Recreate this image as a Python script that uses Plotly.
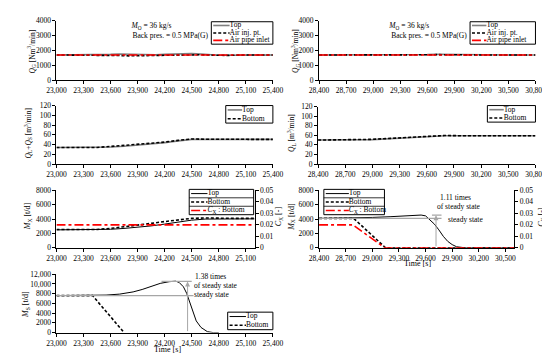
import plotly.graph_objects as go

# ---------------- data ----------------
# Panel 1: Q_G, case 1
t1 = [23000, 23300, 23500, 23600, 23700, 23800, 23900, 24000, 24100, 24200, 24300, 24400, 24500, 24600, 24700, 24800, 24900, 25000, 25200, 25400]
qg1_top = [1700, 1700, 1710, 1740, 1760, 1740, 1700, 1690, 1710, 1740, 1760, 1780, 1800, 1760, 1700, 1680, 1680, 1690, 1700, 1700]
qg1_inj = [1700, 1700, 1690, 1680, 1660, 1640, 1650, 1670, 1690, 1710, 1720, 1720, 1730, 1710, 1690, 1660, 1670, 1690, 1700, 1700]
qg1_pipe = [1700] * len(t1)

# Panel 2: Q_G, case 2
t2 = [28400, 28700, 29000, 29100, 29200, 29300, 29400, 29500, 29600, 29700, 29800, 29900, 30000, 30200, 30500, 30800]
qg2_top = [1700, 1700, 1700, 1710, 1690, 1680, 1700, 1710, 1730, 1750, 1740, 1710, 1700, 1700, 1700, 1700]
qg2_inj = [1700, 1700, 1690, 1680, 1660, 1670, 1690, 1700, 1710, 1720, 1710, 1700, 1690, 1700, 1700, 1700]
qg2_pipe = [1700] * len(t2)

# Panel 3: Q_L+Q_S
t3 = [23000, 23300, 23450, 23600, 23750, 23900, 24050, 24200, 24350, 24450, 24500, 24600, 24800, 25100, 25400]
q3_top = [34, 34, 34, 35, 36.5, 38.5, 41, 44, 47.5, 50, 50.5, 50.5, 50.5, 50.5, 50.5]
q3_bot = [34, 34, 34, 36, 38, 40, 42.5, 45, 48.5, 51, 51.5, 51, 50.5, 50.5, 50.5]

# Panel 4: Q_L
t4 = [28400, 28700, 28900, 29000, 29150, 29300, 29450, 29600, 29700, 29800, 30000, 30400, 30800]
q4_top = [50, 50, 50, 51, 52.5, 54, 56, 57.5, 58.5, 59, 59, 59, 59]
q4_bot = [50, 50, 50, 51.5, 53, 54.5, 56.5, 58, 59, 59.5, 59, 59, 59]

# Panel 5: M_X and C_X, case 1
t5 = [23000, 23300, 23450, 23600, 23750, 23900, 24050, 24200, 24350, 24500, 24650, 24800, 25000, 25200]
mx5_top = [2500, 2500, 2500, 2580, 2700, 2850, 3050, 3300, 3580, 3850, 4000, 4030, 4030, 4030]
mx5_bot = [2550, 2550, 2550, 2700, 2900, 3150, 3400, 3650, 3900, 4100, 4150, 4100, 4100, 4100]
cx5_bot = [0.02] * len(t5)

# Panel 6: M_X and C_X, case 2
t6 = [28400, 28600, 28800, 29000, 29200, 29400, 29500, 29550, 29600, 29650, 29700, 29750, 29800, 29850, 29900, 29950, 30000, 30050, 30600]
mx6_top = [4100, 4110, 4150, 4230, 4330, 4450, 4540, 4560, 4450, 3850, 3300, 2500, 1600, 900, 450, 150, 40, 0, 0]
t6_bot = [28400, 28790, 29150, 30600]
mx6_bot = [4100, 4100, 0, 0]
t6_cx = [28400, 28780, 29140, 30600]
cx6_bot = [0.02, 0.02, 0, 0]

# Panel 7: M_S
t7 = [23000, 23400, 23550, 23700, 23850, 23950, 24050, 24150, 24250, 24320, 24360, 24408, 24444, 24480, 24515, 24550, 24603, 24673, 24740, 24800]
ms7_top = [7600, 7600, 7700, 7900, 8350, 8850, 9550, 10100, 10450, 10560, 10300, 9400, 8060, 6060, 4060, 2400, 1060, 200, 0, 0]
t7_bot = [23000, 23400, 23750]
ms7_bot = [7600, 7600, 0]

# annotation values
steady6, peak6, arrow6_t = 4100, 4550, 29718
steady7, peak7, arrow7_t = 7600, 10500, 24454

# tick values / labels
xt_a = list(range(23000, 25401, 300))
xt_b = list(range(28400, 30801, 300))
xt_c = list(range(23000, 25101, 300))
xt_d = list(range(28400, 30501, 300))
y7_vals = [0, 2000, 4000, 6000, 8000, 10000, 12000]
y7_text = ["0", "2000", "4000", "6000", "8000", "10,000", "12,000"]
cx_vals = [0, 0.01, 0.02, 0.03, 0.04, 0.05]
cx_text = ["0", "0.01", "0.02", "0.03", "0.04", "0.05"]

# ---------------- figure ----------------
W, H = 550, 353
FONT = "Liberation Serif"
FS = 7.5
GREY = "#7f7f7f"
DASH = "3px,2px"


def px(x):
    return x / W


def py(y):
    return 1 - y / H


fig = go.Figure()


def line(x, y, xa, ya, color="black", dash="solid", width=1.2):
    fig.add_trace(go.Scatter(x=x, y=y, xaxis=xa, yaxis=ya, mode="lines",
                             line=dict(color=color, dash=dash, width=width),
                             showlegend=False, hoverinfo="skip"))


# panel 1
line(t1, qg1_top, "x", "y", GREY, "solid", 1.6)
line(t1, qg1_inj, "x", "y", "black", DASH, 1.6)
line(t1, qg1_pipe, "x", "y", "red", "dashdot", 1.6)
# panel 2
line(t2, qg2_top, "x2", "y2", GREY, "solid", 1.6)
line(t2, qg2_inj, "x2", "y2", "black", DASH, 1.6)
line(t2, qg2_pipe, "x2", "y2", "red", "dashdot", 1.6)
# panel 3
line(t3, q3_top, "x3", "y3", GREY, "solid", 1.6)
line(t3, q3_bot, "x3", "y3", "black", DASH, 1.6)
# panel 4
line(t4, q4_top, "x4", "y4", GREY, "solid", 1.6)
line(t4, q4_bot, "x4", "y4", "black", DASH, 1.6)
# panel 5
line(t5, mx5_top, "x5", "y5", "black", "solid", 1.0)
line(t5, mx5_bot, "x5", "y5", "black", DASH, 1.6)
line(t5, cx5_bot, "x5", "y8", "red", "dashdot", 1.6)
# panel 6
line(t6, mx6_top, "x6", "y6", "black", "solid", 1.0)
line(t6_bot, mx6_bot, "x6", "y6", "black", DASH, 1.6)
line(t6_cx, cx6_bot, "x6", "y9", "red", "dashdot", 1.6)
# panel 7
line(t7, ms7_top, "x7", "y7", "black", "solid", 1.0)
line(t7_bot, ms7_bot, "x7", "y7", "black", DASH, 1.6)

axis_common = dict(showline=True, linecolor="black", linewidth=1, ticks="outside",
                   ticklen=3, tickcolor="black", showgrid=False, zeroline=False,
                   tickfont=dict(family=FONT, size=FS, color="black"))


def xax(x0, x1, anchor, rng, tv):
    return dict(axis_common, domain=[px(x0), px(x1)], anchor=anchor, range=rng,
                tickvals=tv, tickformat=",d")


def yax(y0, y1, anchor, rng, dtick, **kw):
    d = dict(axis_common, domain=[py(y1), py(y0)], anchor=anchor, range=rng, dtick=dtick)
    d.update(kw)
    return d


layout = dict(
    width=W, height=H, autosize=False,
    margin=dict(l=0, r=0, t=0, b=0),
    paper_bgcolor="white", plot_bgcolor="rgba(0,0,0,0)",
    font=dict(family=FONT, size=FS, color="black"),
    xaxis=xax(40, 265, "y", [23000, 25400], xt_a),
    yaxis=yax(9, 70, "x", [0, 4000], 1000),
    xaxis2=xax(313, 538, "y2", [28400, 30800], xt_b),
    yaxis2=yax(9, 70, "x2", [0, 4000], 1000),
    xaxis3=xax(40, 265, "y3", [23000, 25400], xt_a),
    yaxis3=yax(96, 156, "x3", [0, 120], 20),
    xaxis4=xax(312, 538, "y4", [28400, 30800], xt_b),
    yaxis4=yax(97, 156, "x4", [0, 120], 20),
    xaxis5=xax(40, 246, "y5", [23000, 25200], xt_c),
    yaxis5=yax(183, 242, "x5", [0, 8000], 2000),
    yaxis8=dict(axis_common, overlaying="y5", anchor="x5", side="right",
                range=[0, 0.05], tickvals=cx_vals, ticktext=cx_text),
    xaxis6=xax(313, 516, "y6", [28400, 30600], xt_d),
    yaxis6=yax(183, 242, "x6", [0, 8000], 2000),
    yaxis9=dict(axis_common, overlaying="y6", anchor="x6", side="right",
                range=[0, 0.05], tickvals=cx_vals, ticktext=cx_text),
    xaxis7=xax(40, 265, "y7", [23000, 25400], xt_a),
    yaxis7=yax(269, 329, "x7", [0, 12000], 2000, tickvals=y7_vals, ticktext=y7_text),
    # invisible full-page overlay used for left-anchored labels (pixel units)
    xaxis10=dict(domain=[0, 1], range=[0, W], visible=False, anchor="y10", fixedrange=True),
    yaxis10=dict(domain=[0, 1], range=[H, 0], visible=False, anchor="x10", fixedrange=True),
)
fig.update_layout(**layout)

shapes = []
annots = []
lab_x, lab_y, lab_t = [], [], []


def text(x, y, s, size=FS, angle=0):
    annots.append(dict(x=px(x), y=py(y), xref="paper", yref="paper", text=s,
                       showarrow=False, xanchor="center", yanchor="middle",
                       borderpad=0, textangle=angle,
                       font=dict(family=FONT, size=size, color="black")))


def ltext(x, y, s):
    lab_x.append(x)
    lab_y.append(y)
    lab_t.append(s)


def legend(x0, x1, y0, y1, items, sample_len, dividers=False):
    shapes.append(dict(type="rect", xref="paper", yref="paper", x0=px(x0), x1=px(x1),
                       y0=py(y1), y1=py(y0), line=dict(color="black", width=1),
                       fillcolor="rgba(0,0,0,0)", layer="above"))
    n = len(items)
    rh = (y1 - y0) / n
    for i, (lab, col, dash, w) in enumerate(items):
        yc = y0 + rh * (i + 0.5)
        shapes.append(dict(type="line", xref="paper", yref="paper",
                           x0=px(x0 + 2), x1=px(x0 + 2 + sample_len), y0=py(yc), y1=py(yc),
                           line=dict(color=col, dash=dash, width=w), layer="above"))
        ltext(x0 + 2 + sample_len, yc, lab)
        if dividers and i < n - 1:
            shapes.append(dict(type="line", xref="paper", yref="paper",
                               x0=px(x0), x1=px(x1), y0=py(y0 + rh * (i + 1)), y1=py(y0 + rh * (i + 1)),
                               line=dict(color="black", width=0.8), layer="above"))


lg_qg = [("Top", GREY, "solid", 1.6), ("Air inj. pt.", "black", DASH, 1.6), ("Air pipe inlet", "red", "dashdot", 1.6)]
lg_q = [("Top", GREY, "solid", 1.6), ("Bottom", "black", DASH, 1.6)]
lg_m = [("Top", "black", "solid", 1.0), ("Bottom", "black", DASH, 1.6),
        ("<i>C</i><sub>X</sub> : Bottom", "red", "dashdot", 1.6)]
lg_ms = [("Top", "black", "solid", 1.0), ("Bottom", "black", DASH, 1.6)]

legend(201, 265, 10, 33, lg_qg, 17)
legend(470, 538, 10, 33, lg_qg, 15)
legend(216, 265, 96, 114, lg_q, 15)
legend(488, 538, 96, 113, lg_q, 15)
legend(178, 245, 182, 208, lg_m, 17, dividers=True)
legend(318, 381, 182, 208, lg_m, 24, dividers=True)
legend(218, 265, 308, 326, lg_ms, 17)

# condition texts
ltext(118, 15, "<i>M</i><sub>O</sub> = 36 kg/s")
ltext(119, 24.5, "Back pres. = 0.5 MPa(G)")
ltext(386, 15, "<i>M</i><sub>O</sub> = 36 kg/s")
ltext(388, 24.5, "Back pres. = 0.5 MPa(G)")
ltext(183, 291, "steady state")

fig.add_trace(go.Scatter(x=lab_x, y=lab_y, text=lab_t, mode="text", xaxis="x10", yaxis="y10",
                         textposition="middle right", cliponaxis=False,
                         textfont=dict(family=FONT, size=FS, color="black"),
                         showlegend=False, hoverinfo="skip"))

# axis titles
text(15, 40, "<i>Q</i><sub>G</sub> [Nm<sup>3</sup>/min]", angle=-90)
text(289, 40, "<i>Q</i><sub>G</sub> [Nm<sup>3</sup>/min]", angle=-90)
text(11, 125, "<i>Q</i><sub>L</sub>+<i>Q</i><sub>S</sub> [m<sup>3</sup>/min]", angle=-90)
text(285, 124, "<i>Q</i><sub>L</sub> [m<sup>3</sup>/min]", angle=-90)
text(10, 210, "<i>M</i><sub>X</sub> [t/d]", 8, angle=-90)
text(271, 210, "<i>C</i><sub>X</sub> [-]", 8, angle=-90)
text(284, 210, "<i>M</i><sub>X</sub> [t/d]", 8, angle=-90)
text(544, 210, "<i>C</i><sub>X</sub> [-]", 8, angle=-90)
text(9, 300, "<i>M</i><sub>S</sub> [t/d]", 8, angle=-90)
text(415, 258.5, "Time [s]", 8)
text(155, 346.5, "Time [s]", 8)

# steady-state annotations, panel 6
LG = "#a6a6a6"
shapes.append(dict(type="line", xref="x6", yref="y6", x0=28400, x1=29780, y0=steady6, y1=steady6,
                   line=dict(color=LG, width=1.3)))
shapes.append(dict(type="line", xref="x6", yref="y6", x0=29672, x1=29780, y0=peak6, y1=peak6,
                   line=dict(color=LG, width=1.3)))
annots.append(dict(x=arrow6_t, y=peak6, ax=arrow6_t, ay=0, xref="x6", yref="y6", axref="x6", ayref="y6",
                   text="", showarrow=True, arrowhead=2, arrowsize=1, arrowwidth=1, arrowcolor=LG))
text(455, 190, "1.11 times")
text(458, 200, "of steady state")
text(465, 213, "steady state")

# steady-state annotations, panel 7
shapes.append(dict(type="line", xref="x7", yref="y7", x0=23000, x1=24520, y0=steady7, y1=steady7,
                   line=dict(color=LG, width=1.3)))
shapes.append(dict(type="line", xref="x7", yref="y7", x0=24165, x1=24500, y0=peak7, y1=peak7,
                   line=dict(color=LG, width=1.3)))
annots.append(dict(x=arrow7_t, y=peak7, ax=arrow7_t, ay=0, xref="x7", yref="y7", axref="x7", ayref="y7",
                   text="", showarrow=True, arrowhead=2, arrowsize=1, arrowwidth=1, arrowcolor=LG))
text(200, 271, "1.38 times")
text(206, 281, "of steady state")

fig.update_layout(shapes=shapes, annotations=annots)
fig.write_html("out.html")
